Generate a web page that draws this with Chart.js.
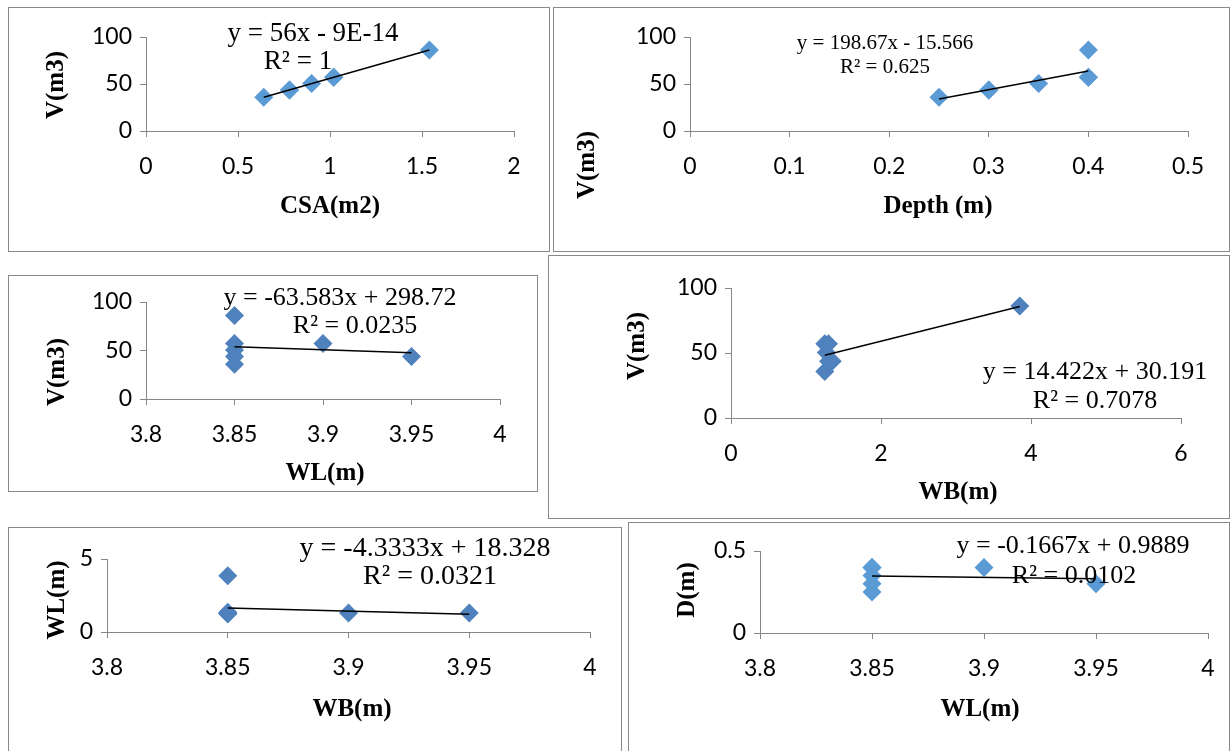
<!DOCTYPE html>
<html>
<head>
<meta charset="utf-8">
<script src="https://cdn.jsdelivr.net/npm/chart.js@4.4.1/dist/chart.umd.min.js"></script>
<style>
  body { margin: 0; background: #fff; width: 1232px; height: 751px; overflow: hidden; position: relative; }
  .box { position: absolute; border: 1px solid #898989; box-sizing: border-box; }
  canvas { position: absolute; left: 0; top: 0; }
</style>
</head>
<body>
<script>
// seven measured samples
const wl    = [3.85, 3.85, 3.85, 3.85, 3.85, 3.9, 3.95];
const wb    = [3.85, 1.25, 1.27, 1.35, 1.25, 1.3, 1.3];
const depth = [0.4, 0.4, 0.35, 0.3, 0.25, 0.4, 0.3];
const csa   = [1.54, 1.02, 0.9, 0.78, 0.64, 1.02, 0.78];
const vol   = [86.2, 57.1, 50.4, 43.7, 35.8, 57.1, 43.7];

// trendlines as printed on the charts
const slope     = [56, 198.67, -63.583, 14.422, -4.3333, -0.1667];
const intercept = [-9e-14, -15.566, 298.72, 30.191, 18.328, 0.9889];
const eqLabels  = ['y = 56x - 9E-14', 'y = 198.67x - 15.566', 'y = -63.583x + 298.72',
                   'y = 14.422x + 30.191', 'y = -4.3333x + 18.328', 'y = -0.1667x + 0.9889'];
const r2Labels  = ['R² = 1', 'R² = 0.625', 'R² = 0.0235', 'R² = 0.7078', 'R² = 0.0321', 'R² = 0.0102'];

// axes: [min, max, step]
const xTitles = ['CSA(m2)', 'Depth (m)', 'WL(m)', 'WB(m)', 'WB(m)', 'WL(m)'];
const yTitles = ['V(m3)', 'V(m3)', 'V(m3)', 'V(m3)', 'WL(m)', 'D(m)'];
const xTicks  = [[0, 2, 0.5], [0, 0.5, 0.1], [3.8, 4, 0.05], [0, 6, 2], [3.8, 4, 0.05], [3.8, 4, 0.05]];
const yTicks  = [[0, 100, 50], [0, 100, 50], [0, 100, 50], [0, 100, 50], [0, 5, 5], [0, 0.5, 0.5]];

// which sample columns go on each panel
const xData = [csa, depth, wl, wb, wl, wl];
const yData = [vol, vol, vol, vol, wb, depth];

// page layout (px)
const panels = [
  { box: [8, 7, 550, 252],    plot: [146, 37, 514, 131],  eq: [313, 34], r2: [298, 62],   eqSize: 27, xt: [330, 207], yt: [57, 85],   color: '#5B9BD5' },
  { box: [553, 7, 1230, 252], plot: [690, 37, 1188, 131], eq: [885, 43], r2: [885, 67],   eqSize: 21, xt: [938, 207], yt: [588, 165], color: '#5B9BD5' },
  { box: [8, 275, 538, 492],  plot: [146, 302, 500, 399], eq: [340, 298], r2: [355, 326], eqSize: 26, xt: [325, 474], yt: [58, 372],  color: '#4F81BD' },
  { box: [548, 255, 1230, 519], plot: [731, 288, 1181, 418], eq: [1095, 372], r2: [1095, 401], eqSize: 26, xt: [958, 493], yt: [638, 346], color: '#4F81BD' },
  { box: [8, 527, 622, 760],  plot: [107, 559, 590, 632], eq: [425, 549], r2: [430, 577], eqSize: 28, xt: [352, 710], yt: [58, 600],  color: '#4F81BD' },
  { box: [628, 522, 1230, 760], plot: [760, 551, 1208, 633], eq: [1073, 546], r2: [1074, 576], eqSize: 26, xt: [980, 710], yt: [688, 590], color: '#5B9BD5' }
];

const W = 1232, H = 751;
const Y_W = 60, X_H = 60;
const AXIS = '#868686';

// Excel-like general number format: 2 -> "2", 3.80 -> "3.8"
const fmt = v => String(parseFloat(Number(v).toFixed(6)));

const panelText = {
  id: 'panelText',
  afterDraw(chart, args, o) {
    const ctx = chart.ctx;
    ctx.save();
    ctx.fillStyle = '#000';
    ctx.textAlign = 'center';
    ctx.textBaseline = 'middle';
    ctx.font = o.eqSize + 'px "Liberation Serif", "Times New Roman", serif';
    ctx.fillText(o.eq, o.eqPos[0], o.eqPos[1]);
    ctx.fillText(o.r2, o.r2Pos[0], o.r2Pos[1]);
    ctx.font = 'bold 25px "Liberation Serif", "Times New Roman", serif';
    ctx.fillText(o.xTitle, o.xtPos[0], o.xtPos[1]);
    ctx.translate(o.ytPos[0], o.ytPos[1]);
    ctx.rotate(-Math.PI / 2);
    ctx.fillText(o.yTitle, 0, 0);
    ctx.restore();
  }
};

function makePanel(i) {
  const p = panels[i];
  const div = document.createElement('div');
  div.className = 'box';
  div.style.left = p.box[0] + 'px';
  div.style.top = p.box[1] + 'px';
  div.style.width = (p.box[2] - p.box[0]) + 'px';
  div.style.height = (p.box[3] - p.box[1]) + 'px';
  document.body.appendChild(div);

  const canvas = document.createElement('canvas');
  canvas.width = W;
  canvas.height = H;
  document.body.appendChild(canvas);

  const xs = xData[i], ys = yData[i];
  const points = xs.map((x, k) => ({ x: x, y: ys[k] }));
  const x0 = Math.min(...xs), x1 = Math.max(...xs);
  const trend = [x0, x1].map(x => ({ x: x, y: slope[i] * x + intercept[i] }));

  const tickFont = { family: 'Lato', size: 23 };

  new Chart(canvas, {
    type: 'scatter',
    data: {
      datasets: [
        { type: 'line', data: trend, borderColor: '#000', borderWidth: 1.5, pointRadius: 0, fill: false },
        { data: points, pointStyle: 'rectRot', pointRadius: 9.5, pointHoverRadius: 9.5,
          backgroundColor: p.color, borderWidth: 0 }
      ]
    },
    options: {
      responsive: false,
      animation: false,
      devicePixelRatio: 1,
      events: [],
      layout: {
        padding: { left: p.plot[0] - Y_W, top: p.plot[1], right: W - p.plot[2], bottom: H - p.plot[3] - X_H }
      },
      scales: {
        x: {
          type: 'linear', min: xTicks[i][0], max: xTicks[i][1],
          ticks: { stepSize: xTicks[i][2], font: tickFont, color: '#000', padding: 16, maxRotation: 0,
                   autoSkip: false, callback: fmt },
          grid: { drawOnChartArea: false, drawTicks: true, tickLength: 6, color: AXIS },
          border: { color: AXIS },
          afterFit: s => { s.height = X_H; }
        },
        y: {
          type: 'linear', min: yTicks[i][0], max: yTicks[i][1],
          ticks: { stepSize: yTicks[i][2], font: tickFont, color: '#000', padding: 8, callback: fmt },
          grid: { drawOnChartArea: false, drawTicks: true, tickLength: 6, color: AXIS },
          border: { color: AXIS },
          afterFit: s => { s.width = Y_W; }
        }
      },
      plugins: {
        legend: { display: false },
        tooltip: { enabled: false },
        panelText: {
          eq: eqLabels[i], r2: r2Labels[i], eqSize: p.eqSize,
          eqPos: p.eq, r2Pos: p.r2,
          xTitle: xTitles[i], yTitle: yTitles[i], xtPos: p.xt, ytPos: p.yt
        }
      }
    },
    plugins: [panelText]
  });
}

function build() {
  for (let i = 0; i < panels.length; i++) makePanel(i);
}

Promise.all([
  document.fonts.load('23px Lato'),
  document.fonts.load('26px "Liberation Serif"'),
  document.fonts.load('bold 25px "Liberation Serif"')
]).catch(() => {}).finally(build);
</script>
</body>
</html>
